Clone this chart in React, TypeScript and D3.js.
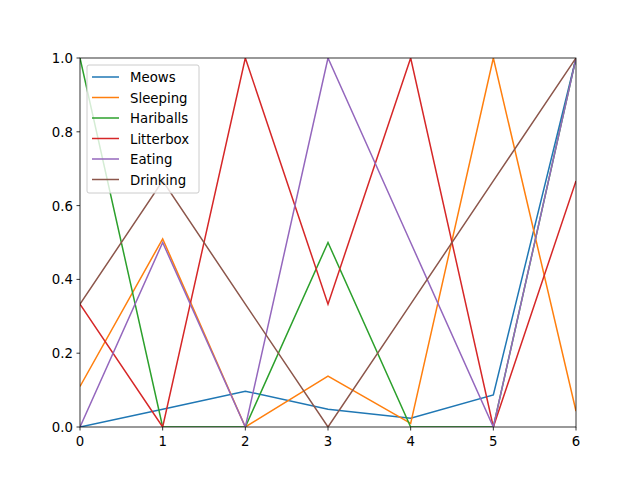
import React from "react";
import * as d3 from "d3";

const xs = [0, 1, 2, 3, 4, 5, 6];
const seriesNames = ["Meows", "Sleeping", "Hariballs", "Litterbox", "Eating", "Drinking"];
const colors = ["#1f77b4", "#ff7f0e", "#2ca02c", "#d62728", "#9467bd", "#8c564b"];
const meows = [0, 0.048, 0.097, 0.048, 0.024, 0.087, 1];
const sleeping = [0.11, 0.51, 0, 0.138, 0.01, 1, 0.043];
const hariballs = [1, 0, 0, 0.5, 0, 0, 1];
const litterbox = [0.333, 0, 1, 0.333, 1, 0, 0.667];
const eating = [0, 0.5, 0, 1, 0.5, 0, 1];
const drinking = [0.333, 0.667, 0.333, 0, 0.333, 0.667, 1];
const allSeries = [meows, sleeping, hariballs, litterbox, eating, drinking];
const yTicks = [0, 0.2, 0.4, 0.6, 0.8, 1.0];

export default function App() {
  const W = 640, H = 480;
  const m = { left: 80, right: 64, top: 58, bottom: 53 };
  const x = d3.scaleLinear().domain([0, 6]).range([m.left, W - m.right]);
  const y = d3.scaleLinear().domain([0, 1]).range([H - m.bottom, m.top]);
  const line = d3.line<number>().x((_, i) => x(xs[i])).y(d => y(d));
  const font = "DejaVu Sans";
  const fs = 13.3;
  return (
    <svg width={W} height={H} style={{ position: "absolute", left: 0, top: 0 }} fontFamily={font}>
      <rect width={W} height={H} fill="white" />
      <defs>
        <clipPath id="c"><rect x={m.left} y={m.top} width={W - m.left - m.right} height={H - m.top - m.bottom} /></clipPath>
      </defs>
      <g clipPath="url(#c)">
        {allSeries.map((s, i) => (
          <path key={i} d={line(s)!} fill="none" stroke={colors[i]} strokeWidth={1.5} />
        ))}
      </g>
      <rect x={m.left} y={m.top} width={W - m.left - m.right} height={H - m.top - m.bottom} fill="none" stroke="black" strokeWidth={0.8} />
      {xs.map(t => (
        <g key={t}>
          <line x1={x(t)} x2={x(t)} y1={y(0)} y2={y(0) + 3.5} stroke="black" strokeWidth={0.8} />
          <text x={x(t)} y={y(0) + 19} fontSize={fs} textAnchor="middle">{t}</text>
        </g>
      ))}
      {yTicks.map(t => (
        <g key={t}>
          <line x1={m.left - 3.5} x2={m.left} y1={y(t)} y2={y(t)} stroke="black" strokeWidth={0.8} />
          <text x={m.left - 7} y={y(t) + 5} fontSize={fs} textAnchor="end">{t.toFixed(1)}</text>
        </g>
      ))}
      <g transform={`translate(${m.left + 7},${m.top + 7})`}>
        <rect width={112} height={128} rx={2} fill="white" fillOpacity={0.8} stroke="#ccc" />
        {seriesNames.map((n, i) => (
          <g key={n} transform={`translate(0,${12 + i * 20.5})`}>
            <line x1={5} x2={32} y1={0} y2={0} stroke={colors[i]} strokeWidth={1.5} />
            <text x={43} y={5} fontSize={fs}>{n}</text>
          </g>
        ))}
      </g>
    </svg>
  );
}
